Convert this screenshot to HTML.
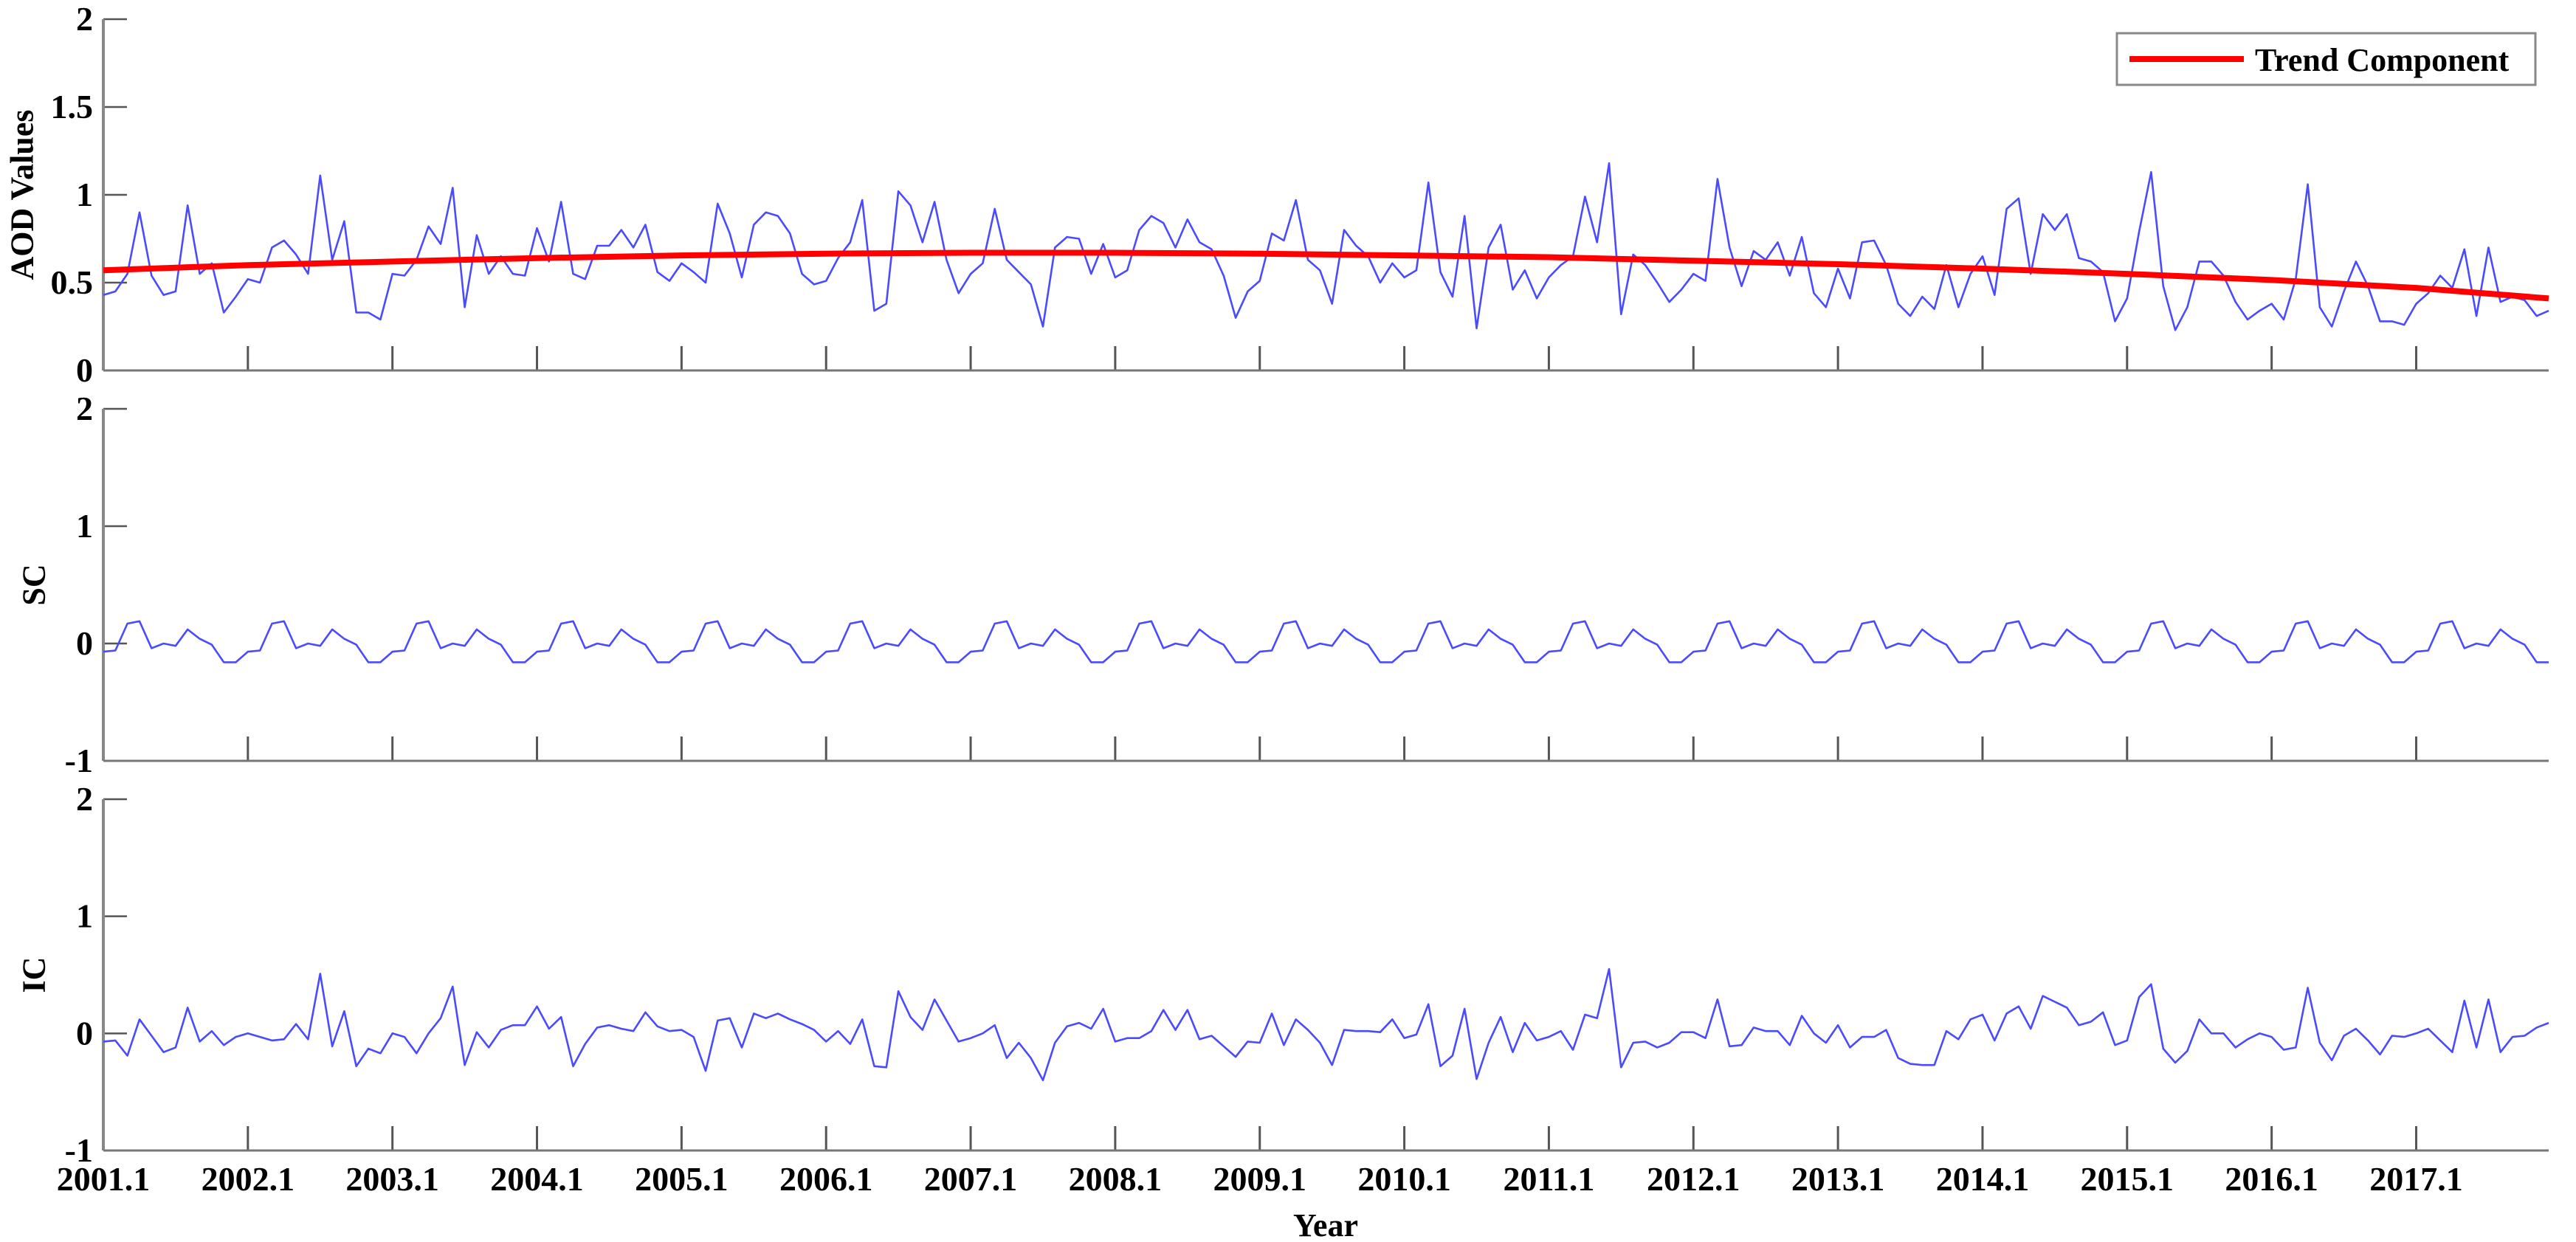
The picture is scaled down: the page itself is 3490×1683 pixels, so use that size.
<!DOCTYPE html>
<html><head><meta charset="utf-8">
<style>
html,body{margin:0;padding:0;background:#fff;}
svg{display:block;}
text{font-family:"Liberation Serif","Times New Roman",serif;font-weight:bold;fill:#000;}
</style></head>
<body>
<svg id="chart" width="3490" height="1683" viewBox="0 0 3490 1683" xmlns="http://www.w3.org/2000/svg"></svg>
<script>
// ---- data ----
const years = ["2001.1","2002.1","2003.1","2004.1","2005.1","2006.1","2007.1","2008.1","2009.1","2010.1","2011.1","2012.1","2013.1","2014.1","2015.1","2016.1","2017.1"];
const aod = [
0.43,0.45,0.55,0.90,0.54,0.43,0.45,0.94,0.55,0.61,0.33,0.42,
0.52,0.50,0.70,0.74,0.66,0.55,1.11,0.63,0.85,0.33,0.33,0.29,
0.55,0.54,0.63,0.82,0.72,1.04,0.36,0.77,0.55,0.65,0.55,0.54,
0.81,0.62,0.96,0.55,0.52,0.71,0.71,0.80,0.70,0.83,0.56,0.51,
0.61,0.56,0.50,0.95,0.78,0.53,0.83,0.90,0.88,0.78,0.55,0.49,
0.51,0.64,0.73,0.97,0.34,0.38,1.02,0.94,0.73,0.96,0.63,0.44,
0.55,0.61,0.92,0.63,0.56,0.49,0.25,0.70,0.76,0.75,0.55,0.72,
0.53,0.57,0.80,0.88,0.84,0.70,0.86,0.73,0.69,0.54,0.30,0.45,
0.51,0.78,0.74,0.97,0.63,0.57,0.38,0.80,0.71,0.65,0.50,0.61,
0.53,0.57,1.07,0.56,0.42,0.88,0.24,0.70,0.83,0.46,0.57,0.41,
0.53,0.60,0.65,0.99,0.73,1.18,0.32,0.66,0.60,0.50,0.39,0.46,
0.55,0.51,1.09,0.70,0.48,0.68,0.63,0.73,0.54,0.76,0.44,0.36,
0.58,0.41,0.73,0.74,0.60,0.38,0.31,0.42,0.35,0.60,0.36,0.55,
0.65,0.43,0.92,0.98,0.55,0.89,0.80,0.89,0.64,0.62,0.56,0.28,
0.41,0.79,1.13,0.48,0.23,0.36,0.62,0.62,0.54,0.39,0.29,0.34,
0.38,0.29,0.52,1.06,0.36,0.25,0.45,0.62,0.48,0.28,0.28,0.26,
0.38,0.44,0.54,0.47,0.69,0.31,0.70,0.39,0.42,0.40,0.31,0.34];
const trendYears = [0,12,24,36,48,60,72,84,96,108,120,132,144,156,168,180,192,203];
const trendValues = [0.57,0.60,0.62,0.64,0.655,0.665,0.67,0.67,0.665,0.655,0.645,0.625,0.605,0.58,0.55,0.515,0.47,0.41];
const scSeason = [-0.07,-0.06,0.17,0.19,-0.04,0.0,-0.02,0.12,0.04,-0.01,-0.16,-0.16];
const ic = [
-0.07,-0.06,-0.19,0.12,-0.02,-0.16,-0.12,0.22,-0.07,0.02,-0.10,-0.03,
0.0,-0.03,-0.06,-0.05,0.08,-0.05,0.51,-0.11,0.19,-0.28,-0.13,-0.17,
0.0,-0.03,-0.17,0.0,0.13,0.40,-0.27,0.01,-0.12,0.03,0.07,0.07,
0.23,0.04,0.14,-0.28,-0.09,0.05,0.07,0.04,0.02,0.18,0.06,0.02,
0.03,-0.03,-0.32,0.11,0.13,-0.12,0.17,0.13,0.17,0.12,0.08,0.03,
-0.07,0.02,-0.09,0.12,-0.28,-0.29,0.36,0.14,0.03,0.29,0.11,-0.07,
-0.04,0.0,0.07,-0.21,-0.08,-0.21,-0.40,-0.08,0.06,0.09,0.04,0.21,
-0.07,-0.04,-0.04,0.02,0.20,0.03,0.20,-0.05,-0.02,-0.11,-0.20,-0.07,
-0.08,0.17,-0.10,0.12,0.03,-0.08,-0.27,0.03,0.02,0.02,0.01,0.12,
-0.04,-0.01,0.25,-0.28,-0.19,0.21,-0.39,-0.08,0.14,-0.16,0.09,-0.06,
-0.03,0.02,-0.14,0.16,0.13,0.55,-0.29,-0.08,-0.07,-0.12,-0.08,0.01,
0.01,-0.04,0.29,-0.11,-0.10,0.05,0.02,0.02,-0.10,0.15,0.0,-0.08,
0.07,-0.12,-0.03,-0.03,0.03,-0.21,-0.26,-0.27,-0.27,0.02,-0.05,0.12,
0.16,-0.06,0.17,0.23,0.04,0.32,0.27,0.22,0.07,0.10,0.18,-0.10,
-0.06,0.31,0.42,-0.13,-0.25,-0.15,0.12,0.0,0.0,-0.12,-0.05,0.0,
-0.03,-0.14,-0.12,0.39,-0.08,-0.23,-0.02,0.04,-0.06,-0.18,-0.02,-0.03,
0.0,0.04,-0.06,-0.16,0.28,-0.12,0.29,-0.16,-0.03,-0.02,0.05,0.09];
const sc = [];
for (let y = 0; y < 17; y++) { for (let m = 0; m < 12; m++) sc.push(scSeason[m]); }

// ---- layout ----
const NS = "http://www.w3.org/2000/svg";
const svg = document.getElementById('chart');
const X0 = 140, XEND = 3453, MONTH = (XEND - X0) / 203;
const xOf = i => X0 + i * MONTH;
const panels = [
  {name:'aod', top:26, bottom:502, min:0, max:2, ticks:[0,0.5,1,1.5,2], labels:["0","0.5","1","1.5","2"], title:"AOD Values"},
  {name:'sc', top:554, bottom:1031, min:-1, max:2, ticks:[-1,0,1,2], labels:["-1","0","1","2"], title:"SC"},
  {name:'ic', top:1083, bottom:1559, min:-1, max:2, ticks:[-1,0,1,2], labels:["-1","0","1","2"], title:"IC"}
];
function mk(tag, attrs, parent){ const e=document.createElementNS(NS,tag); for(const k in attrs) e.setAttribute(k,attrs[k]); (parent||svg).appendChild(e); return e; }
function yScale(p){ return v => p.bottom - (v - p.min) / (p.max - p.min) * (p.bottom - p.top); }

panels.forEach((p, pi) => {
  const g = mk('g', {});
  
  
  const ys = yScale(p);
  // x ticks
  years.forEach((yl, k) => {
    const x = xOf(k * 12);
    const t = mk('line', {x1:x, x2:x, y1:p.bottom, y2:p.bottom-33, stroke:'#555', 'stroke-width':3}, g);
    
    
  });
  // y ticks
  p.ticks.forEach((v, k) => {
    const y = ys(v);
    const t = mk('line', {x1:X0, x2:X0+32, y1:y, y2:y, stroke:'#555', 'stroke-width':2.5}, g);
    
    
    const lb = mk('text', {x:126, y:y+15, 'text-anchor':'end', 'font-size':46}, g);
    lb.textContent = p.labels[k];
    
    
  });
  // axes
  const ax = mk('line', {x1:X0, x2:X0, y1:p.top, y2:p.bottom, stroke:'#888', 'stroke-width':4}, g);
  
  
  const bx = mk('line', {x1:X0, x2:XEND, y1:p.bottom, y2:p.bottom, stroke:'#777', 'stroke-width':3}, g);
  
  
  // y title
  const cy = (p.top + p.bottom) / 2;
  const cx = pi === 0 ? 30 : 46;
  const tt = mk('text', {x:cx, y:cy, 'text-anchor':'middle', 'dominant-baseline':'central', 'font-size':44, transform:`rotate(-90 ${cx} ${cy})`}, g);
  tt.textContent = p.title;
  
  
  // series
  const data = pi === 0 ? aod : (pi === 1 ? sc : ic);
  const pts = data.map((v, i) => xOf(i).toFixed(1) + ',' + ys(v).toFixed(1)).join(' ');
  const pl = mk('polyline', {points:pts, fill:'none', stroke:'#4a4aff', 'stroke-width':2.6, 'stroke-linejoin':'round'}, g);
  
  
  if (pi === 0) {
    const tp = trendYears.map((m, k) => xOf(m).toFixed(1) + ',' + ys(trendValues[k]).toFixed(1)).join(' ');
    const tl = mk('polyline', {points:tp, fill:'none', stroke:'#ff0000', 'stroke-width':8, 'stroke-linejoin':'round'}, g);
    
    
  }
});

// x tick labels
years.forEach((yl, k) => {
  const t = mk('text', {x:xOf(k*12), y:1613, 'text-anchor':'middle', 'font-size':46});
  t.textContent = yl;
  
  
});
const xt = mk('text', {x:1796, y:1675, 'text-anchor':'middle', 'font-size':44});
xt.textContent = 'Year';



// legend
const lg = mk('g', {});


mk('rect', {x:2868, y:45, width:567, height:70, fill:'#fff', stroke:'#888', 'stroke-width':3}, lg);
const ll = mk('line', {x1:2885, x2:3040, y1:80, y2:80, stroke:'#ff0000', 'stroke-width':8}, lg);


const lt = mk('text', {x:3055, y:96, 'font-size':44}, lg);
lt.textContent = 'Trend Component';


</script>
</body></html>
